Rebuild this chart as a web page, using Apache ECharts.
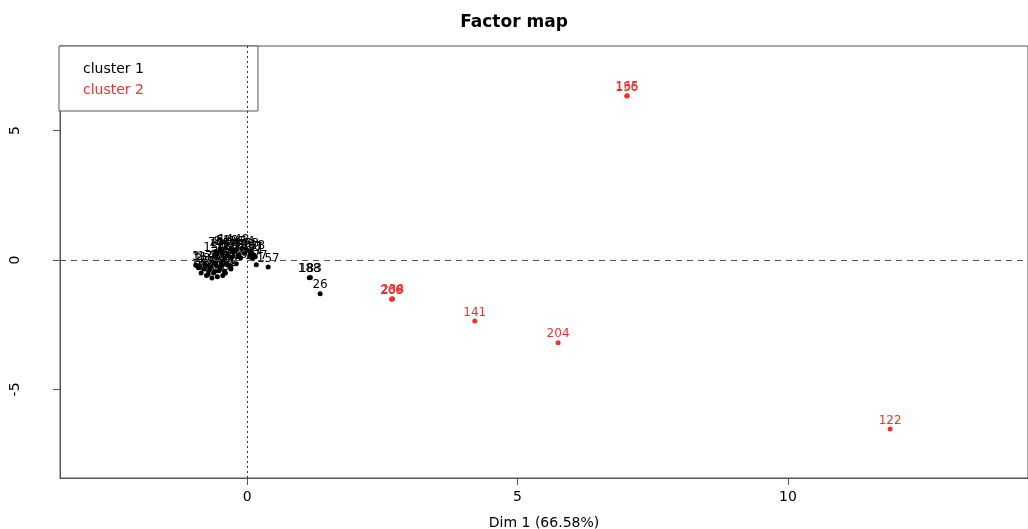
<!DOCTYPE html>
<html>
<head>
<meta charset="utf-8">
<script src="https://cdn.jsdelivr.net/npm/echarts@6/dist/echarts.min.js"></script>
<style>
  html, body { margin: 0; padding: 0; background: #fff; }
  #factor_map { width: 1028px; height: 529px; }
</style>
</head>
<body>
<div id="factor_map"></div>
<script>
// individuals of cluster 1 (black) : name, Dim 1, Dim 2
var cluster1Names = ['12', '45', '67', '88', '91', '103', '110', '57', '150', '171',
    '5', '14', '29', '36', '48', '54', '63', '70', '84', '97', '106', '118',
    '2', '8', '19', '23', '31', '38', '42', '50', '61', '73', '79', '95', '99', '115',
    '3', '11', '17', '33', '40', '52', '66', '77', '81', '93', '101', '124',
    '177', '157', '188', '183', '26'];
var cluster1X = [-0.55, -0.45, -0.35, -0.25, -0.15, -0.05, 0.05, 0.15, -0.6, 0.1,
    -0.5, -0.4, -0.3, -0.2, -0.1, 0.0, 0.08, -0.58, -0.48, -0.28, -0.12, 0.12,
    -0.9, -0.8, -0.7, -0.6, -0.5, -0.4, -0.3, -0.75, -0.65, -0.55, -0.45, -0.85, -0.35, -0.2,
    -0.95, -0.88, -0.78, -0.68, -0.58, -0.48, -0.38, -0.72, -0.62, -0.52, -0.42, -0.3,
    0.17, 0.39, 1.15, 1.17, 1.35];
var cluster1Y = [0.25, 0.28, 0.22, 0.3, 0.2, 0.26, 0.18, 0.12, 0.15, 0.05,
    0.4, 0.45, 0.42, 0.38, 0.44, 0.35, 0.3, 0.33, 0.36, 0.1, 0.08, 0.2,
    -0.3, -0.35, -0.4, -0.45, -0.3, -0.5, -0.35, -0.6, -0.7, -0.65, -0.6, -0.5, -0.2, -0.15,
    -0.2, -0.25, -0.22, -0.28, -0.18, -0.2, -0.12, -0.55, -0.5, -0.42, -0.45, -0.25,
    -0.19, -0.27, -0.69, -0.68, -1.31];

// individuals of cluster 2 (red)
var cluster2Names = ['136', '165', '209', '238', '266', '141', '204', '122'];
var cluster2X = [7.02, 7.03, 2.68, 2.69, 2.67, 4.21, 5.75, 11.89];
var cluster2Y = [6.33, 6.34, -1.51, -1.5, -1.52, -2.36, -3.2, -6.53];

var xTicks = [0, 5, 10];
var yTicks = [-5, 0, 5];

function toPoints(names, xs, ys) {
    return names.map(function(n, i) { return [xs[i], ys[i], n]; });
}

var font = '"DejaVu Sans", "Liberation Sans", sans-serif';
var chartFactorMap = echarts.init(document.getElementById('factor_map'));
var option = {
    animation: false,
    title: {
        text: 'Factor map',
        left: 'center',
        top: 9,
        textStyle: { fontFamily: font, fontSize: 17, fontWeight: 'bold', color: '#000' }
    },
    legend: {
        orient: 'vertical',
        left: 59,
        top: 46,
        padding: [16, 114, 14, 19],
        itemGap: 7,
        itemWidth: 0,
        itemHeight: 13,
        icon: 'rect',
        backgroundColor: '#fff',
        borderColor: '#555',
        borderWidth: 1,
        textStyle: { fontFamily: font, fontSize: 14 },
        data: [
            { name: 'cluster 1', textStyle: { color: '#000' } },
            { name: 'cluster 2', textStyle: { color: '#f0302a' } }
        ]
    },
    grid: {
        left: 60,
        top: 46,
        right: 0,
        bottom: 51,
        outerBoundsMode: 'none',
        show: true,
        borderColor: '#555',
        borderWidth: 1
    },
    xAxis: {
        type: 'value',
        min: -3.46,
        max: 14.44,
        name: 'Dim 1 (66.58%)',
        nameLocation: 'middle',
        nameGap: 38,
        nameTextStyle: { fontFamily: font, fontSize: 14, color: '#000' },
        axisLine: { onZero: false, lineStyle: { color: '#555' } },
        axisTick: { customValues: xTicks, length: 7, lineStyle: { color: '#555' } },
        axisLabel: { customValues: xTicks, margin: 12, fontFamily: font, fontSize: 14, color: '#000' },
        splitLine: { show: false }
    },
    yAxis: {
        type: 'value',
        min: -8.42,
        max: 8.26,
        axisLine: { show: true, onZero: false, lineStyle: { color: '#555' } },
        axisTick: { show: true, customValues: yTicks, length: 7, lineStyle: { color: '#555' } },
        axisLabel: { customValues: yTicks, rotate: 90, margin: 38, fontFamily: font, fontSize: 14, color: '#000' },
        splitLine: { show: false }
    },
    series: [{
        name: 'cluster 1',
        type: 'scatter',
        symbolSize: 5,
        itemStyle: { color: '#000', opacity: 1 },
        label: {
            show: true,
            position: 'top',
            distance: 0,
            fontFamily: font,
            fontSize: 12,
            color: '#000',
            formatter: function(p) { return p.value[2]; }
        },
        markLine: {
            silent: true,
            symbol: 'none',
            label: { show: false },
            data: [
                { yAxis: 0, lineStyle: { color: '#555', type: [6, 5], width: 1 } },
                { xAxis: 0, lineStyle: { color: '#333', type: [2, 3], width: 1 } }
            ]
        },
        data: toPoints(cluster1Names, cluster1X, cluster1Y)
    }, {
        name: 'cluster 2',
        type: 'scatter',
        symbolSize: 5,
        itemStyle: { color: '#f0302a', opacity: 1 },
        label: {
            show: true,
            position: 'top',
            distance: 0,
            fontFamily: font,
            fontSize: 12,
            color: '#f0302a',
            formatter: function(p) { return p.value[2]; }
        },
        data: toPoints(cluster2Names, cluster2X, cluster2Y)
    }]
};
chartFactorMap.setOption(option);
</script>
</body>
</html>
